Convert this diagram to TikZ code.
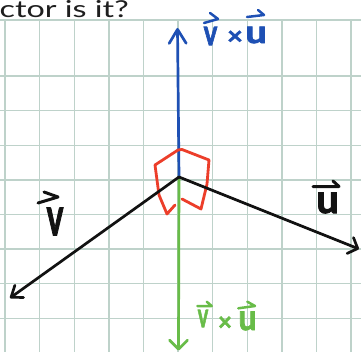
\documentclass[tikz,border=0pt]{standalone}
\usepackage{fontspec}
\usepackage{graphicx}
\newfontfamily\titlefont{Lato}
\newfontfamily\handfont{Lato}[FakeBold=2.2,BoldFeatures={FakeBold=2.2}]
\usetikzlibrary{arrows.meta}
\definecolor{gridc}{RGB}{190,210,202}
\definecolor{bluec}{RGB}{30,80,180}
\definecolor{greenc}{RGB}{104,188,72}
\definecolor{redc}{RGB}{236,62,42}
\definecolor{inkc}{RGB}{18,18,18}
\definecolor{titlec}{RGB}{30,30,30}
\begin{document}
\begin{tikzpicture}[x=1pt,y=-1pt,
  gridline/.style={gridc, line width=1.4pt},
  vecline/.style={line width=2.7pt, line cap=round, line join=round},
  bluetip/.style={-{Straight Barb[length=14pt,width=17pt,line cap=round,line join=round]}},
  greentip/.style={-{Straight Barb[length=9pt,width=18pt,line cap=round,line join=round]}},
  vtip/.style={-{Straight Barb[length=10pt,width=15pt,line cap=round,line join=round]}},
  utip/.style={-{Straight Barb[length=8pt,width=17pt,line cap=round,line join=round]}},
  harp/.style={line width=2.5pt, line cap=round, line join=round},
  lab/.style={inner sep=0pt, font=\handfont\bfseries\fontsize{20}{24}\selectfont}]
\useasboundingbox (0,0) rectangle (361,352);
\clip (0,0) rectangle (361,352);
\fill[white] (0,0) rectangle (361,352);
% grid
\foreach \gy in {20,76.2,110.8,145.4,180,214.6,249.2,283.8,318.4,353}
  \draw[gridline] (0,\gy) -- (361,\gy);
\foreach \gx in {5,39.6,74.2,108.8,143.4,178,212.6,247.2,281.8,316.4,351}
  \draw[gridline] (\gx,20) -- (\gx,352);
% title
\node[anchor=base west, inner sep=0pt, text=titlec] (title) at (-0.5,17.5)
  {\resizebox{129pt}{17pt}{\titlefont ctor is it?}};
% points
\coordinate (O) at (179,177);
\coordinate (bt) at (177.5,28);
\coordinate (gt) at (178.5,350.5);
\coordinate (vt) at (10,298);
\coordinate (ut) at (359,249);
% blue and green vectors
\draw[vecline, bluec, bluetip] (O) -- (bt);
\draw[vecline, greenc, greentip] (O) -- (gt);
% red curved mark
\draw[redc, line width=2.8pt, line cap=round, line join=round]
  (175,205) -- (167,214) -- (159,195) -- (155,165) -- (178,150) -- (182,149.5)
  -- (209,160) -- (207,184) -- (201,209) -- (182,199);
% black vectors
\draw[vecline, inkc, vtip] (O) -- (vt);
\draw[vecline, inkc, utip] (O) -- (ut);
% blue label
\node[lab, text=bluec] (bv) at (210.5,36) {\scalebox{1.3}[1.8]{v}};
\node[lab, text=bluec] (bx) at (235,37.5) {\scalebox{1.35}[1.2]{×}};
\node[lab, text=bluec] (bu) at (256,35) {\scalebox{1.9}[1.6]{u}};
\draw[harp, bluec] (210,13) -- (218,19) -- (204,23);
\draw[harp, bluec] (258,10) -- (264,15) -- (247,17);
% black labels
\node[lab, text=inkc] (kv) at (55,221.5) {\scalebox{1.6}[2.7]{v}};
\node[lab, text=inkc] (ku) at (327.5,203) {\scalebox{2.0}[2.0]{u}};
\draw[harp, inkc, line width=3pt] (44,192) -- (58,197) -- (38,203);
\draw[harp, inkc, line width=3pt] (333,181) -- (339,186.5) -- (313,186.7);
% green label
\node[lab, text=greenc] (gv) at (203,318.5) {\scalebox{1.0}[1.7]{v}};
\node[lab, text=greenc] (gx) at (225,323.5) {\scalebox{1.2}[1.25]{×}};
\node[lab, text=greenc] (gu) at (247.5,321) {\scalebox{1.6}[1.8]{u}};
\draw[harp, greenc] (206.7,301.7) -- (211.7,306) -- (197.3,306);
\draw[harp, greenc] (247.3,301.7) -- (255,306) -- (238.3,308.3);
\end{tikzpicture}
\end{document}
